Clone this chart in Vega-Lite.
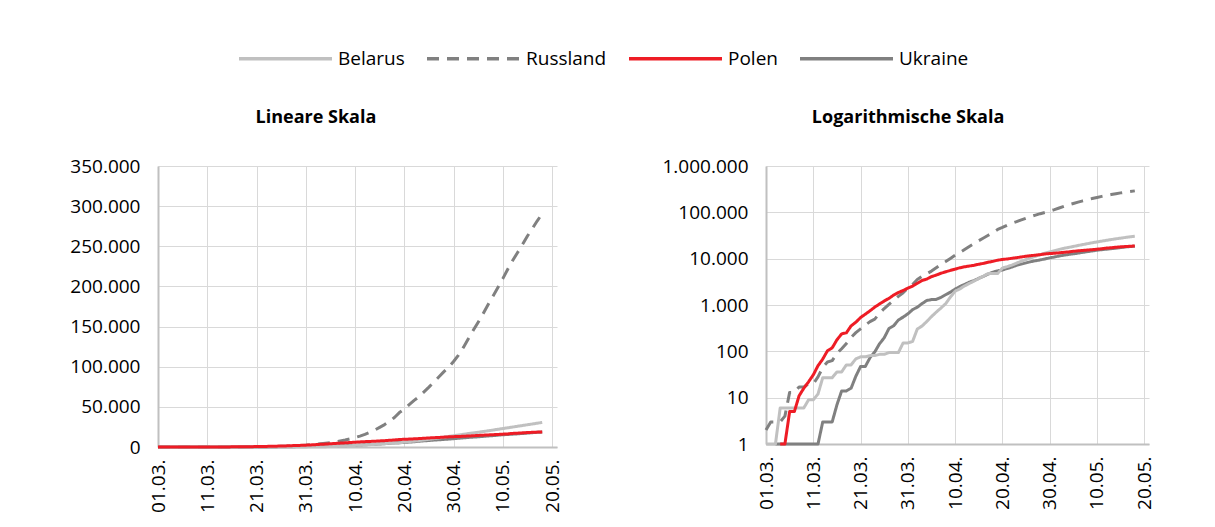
{
"$schema": "https://vega.github.io/schema/vega-lite/v6.json",
"background": "white",
"autosize": {"type": "pad"},
"padding": {"left": 69, "top": 10, "right": 5, "bottom": 5},
"spacing": 98,
"config": {
  "locale": {"number": {"decimal": ",", "thousands": ".", "grouping": [3], "currency": ["", " €"]}},
  "font": "Open Sans",
  "view": {"stroke": null},
  "axis": {"labelFont": "Open Sans", "labelFontSize": 19, "labelColor": "#000000", "gridColor": "#d9d9d9", "gridWidth": 1, "domainColor": "#c0c0c0", "domainWidth": 2, "ticks": false, "title": null},
  "title": {"font": "Open Sans", "fontSize": 18, "fontWeight": "bold", "color": "#000000", "anchor": "middle", "frame": "bounds", "offset": 30},
  "legend": {"title": null, "symbolType": "stroke", "symbolSize": 8649, "symbolStrokeWidth": 3.5, "labelFont": "Open Sans", "labelFontSize": 19, "labelColor": "#000000", "labelOffset": 4, "columnPadding": 15, "padding": 0}
},
"data": {"values": [
{"c":"Belarus","d":"2020-03-01","v":1},{"c":"Belarus","d":"2020-03-02","v":1},{"c":"Belarus","d":"2020-03-03","v":1},{"c":"Belarus","d":"2020-03-04","v":6},{"c":"Belarus","d":"2020-03-05","v":6},{"c":"Belarus","d":"2020-03-06","v":6},{"c":"Belarus","d":"2020-03-07","v":6},{"c":"Belarus","d":"2020-03-08","v":6},{"c":"Belarus","d":"2020-03-09","v":6},{"c":"Belarus","d":"2020-03-10","v":9},{"c":"Belarus","d":"2020-03-11","v":9},{"c":"Belarus","d":"2020-03-12","v":12},{"c":"Belarus","d":"2020-03-13","v":27},{"c":"Belarus","d":"2020-03-14","v":27},{"c":"Belarus","d":"2020-03-15","v":27},{"c":"Belarus","d":"2020-03-16","v":36},{"c":"Belarus","d":"2020-03-17","v":36},{"c":"Belarus","d":"2020-03-18","v":51},{"c":"Belarus","d":"2020-03-19","v":51},{"c":"Belarus","d":"2020-03-20","v":69},{"c":"Belarus","d":"2020-03-21","v":76},{"c":"Belarus","d":"2020-03-22","v":76},{"c":"Belarus","d":"2020-03-23","v":81},{"c":"Belarus","d":"2020-03-24","v":81},{"c":"Belarus","d":"2020-03-25","v":86},{"c":"Belarus","d":"2020-03-26","v":86},{"c":"Belarus","d":"2020-03-27","v":94},{"c":"Belarus","d":"2020-03-28","v":94},{"c":"Belarus","d":"2020-03-29","v":94},{"c":"Belarus","d":"2020-03-30","v":152},{"c":"Belarus","d":"2020-03-31","v":152},
{"c":"Belarus","d":"2020-04-01","v":163},{"c":"Belarus","d":"2020-04-02","v":304},{"c":"Belarus","d":"2020-04-03","v":351},{"c":"Belarus","d":"2020-04-04","v":440},{"c":"Belarus","d":"2020-04-05","v":562},{"c":"Belarus","d":"2020-04-06","v":700},{"c":"Belarus","d":"2020-04-07","v":861},{"c":"Belarus","d":"2020-04-08","v":1066},{"c":"Belarus","d":"2020-04-09","v":1486},{"c":"Belarus","d":"2020-04-10","v":1981},{"c":"Belarus","d":"2020-04-11","v":2226},{"c":"Belarus","d":"2020-04-12","v":2578},{"c":"Belarus","d":"2020-04-13","v":2919},{"c":"Belarus","d":"2020-04-14","v":3281},{"c":"Belarus","d":"2020-04-15","v":3728},{"c":"Belarus","d":"2020-04-16","v":4204},{"c":"Belarus","d":"2020-04-17","v":4779},{"c":"Belarus","d":"2020-04-18","v":4779},{"c":"Belarus","d":"2020-04-19","v":4779},{"c":"Belarus","d":"2020-04-20","v":6264},{"c":"Belarus","d":"2020-04-21","v":6723},{"c":"Belarus","d":"2020-04-22","v":7281},{"c":"Belarus","d":"2020-04-23","v":8022},{"c":"Belarus","d":"2020-04-24","v":8773},{"c":"Belarus","d":"2020-04-25","v":9590},{"c":"Belarus","d":"2020-04-26","v":10463},{"c":"Belarus","d":"2020-04-27","v":11289},{"c":"Belarus","d":"2020-04-28","v":12208},{"c":"Belarus","d":"2020-04-29","v":13181},{"c":"Belarus","d":"2020-04-30","v":14027},
{"c":"Belarus","d":"2020-05-01","v":14917},{"c":"Belarus","d":"2020-05-02","v":15828},{"c":"Belarus","d":"2020-05-03","v":16705},{"c":"Belarus","d":"2020-05-04","v":17489},{"c":"Belarus","d":"2020-05-05","v":18350},{"c":"Belarus","d":"2020-05-06","v":19255},{"c":"Belarus","d":"2020-05-07","v":20168},{"c":"Belarus","d":"2020-05-08","v":21101},{"c":"Belarus","d":"2020-05-09","v":22052},{"c":"Belarus","d":"2020-05-10","v":22973},{"c":"Belarus","d":"2020-05-11","v":23906},{"c":"Belarus","d":"2020-05-12","v":24873},{"c":"Belarus","d":"2020-05-13","v":25825},{"c":"Belarus","d":"2020-05-14","v":26772},{"c":"Belarus","d":"2020-05-15","v":27730},{"c":"Belarus","d":"2020-05-16","v":28681},{"c":"Belarus","d":"2020-05-17","v":29650},{"c":"Belarus","d":"2020-05-18","v":30572},
{"c":"Russland","d":"2020-03-01","v":2},{"c":"Russland","d":"2020-03-02","v":3},{"c":"Russland","d":"2020-03-03","v":3},{"c":"Russland","d":"2020-03-04","v":3},{"c":"Russland","d":"2020-03-05","v":4},{"c":"Russland","d":"2020-03-06","v":13},{"c":"Russland","d":"2020-03-07","v":13},{"c":"Russland","d":"2020-03-08","v":17},{"c":"Russland","d":"2020-03-09","v":17},{"c":"Russland","d":"2020-03-10","v":20},{"c":"Russland","d":"2020-03-11","v":20},{"c":"Russland","d":"2020-03-12","v":28},{"c":"Russland","d":"2020-03-13","v":45},{"c":"Russland","d":"2020-03-14","v":59},{"c":"Russland","d":"2020-03-15","v":63},{"c":"Russland","d":"2020-03-16","v":90},{"c":"Russland","d":"2020-03-17","v":114},{"c":"Russland","d":"2020-03-18","v":147},{"c":"Russland","d":"2020-03-19","v":199},{"c":"Russland","d":"2020-03-20","v":253},{"c":"Russland","d":"2020-03-21","v":306},{"c":"Russland","d":"2020-03-22","v":367},{"c":"Russland","d":"2020-03-23","v":438},{"c":"Russland","d":"2020-03-24","v":495},{"c":"Russland","d":"2020-03-25","v":658},{"c":"Russland","d":"2020-03-26","v":840},{"c":"Russland","d":"2020-03-27","v":1036},{"c":"Russland","d":"2020-03-28","v":1264},{"c":"Russland","d":"2020-03-29","v":1534},{"c":"Russland","d":"2020-03-30","v":1836},{"c":"Russland","d":"2020-03-31","v":2337},
{"c":"Russland","d":"2020-04-01","v":2777},{"c":"Russland","d":"2020-04-02","v":3548},{"c":"Russland","d":"2020-04-03","v":4149},{"c":"Russland","d":"2020-04-04","v":4731},{"c":"Russland","d":"2020-04-05","v":5389},{"c":"Russland","d":"2020-04-06","v":6343},{"c":"Russland","d":"2020-04-07","v":7497},{"c":"Russland","d":"2020-04-08","v":8672},{"c":"Russland","d":"2020-04-09","v":10131},{"c":"Russland","d":"2020-04-10","v":11917},{"c":"Russland","d":"2020-04-11","v":13584},{"c":"Russland","d":"2020-04-12","v":15770},{"c":"Russland","d":"2020-04-13","v":18328},{"c":"Russland","d":"2020-04-14","v":21102},{"c":"Russland","d":"2020-04-15","v":24490},{"c":"Russland","d":"2020-04-16","v":27938},{"c":"Russland","d":"2020-04-17","v":32008},{"c":"Russland","d":"2020-04-18","v":36793},{"c":"Russland","d":"2020-04-19","v":42853},{"c":"Russland","d":"2020-04-20","v":47121},{"c":"Russland","d":"2020-04-21","v":52763},{"c":"Russland","d":"2020-04-22","v":57999},{"c":"Russland","d":"2020-04-23","v":62773},{"c":"Russland","d":"2020-04-24","v":68622},{"c":"Russland","d":"2020-04-25","v":74588},{"c":"Russland","d":"2020-04-26","v":80949},{"c":"Russland","d":"2020-04-27","v":87147},{"c":"Russland","d":"2020-04-28","v":93558},{"c":"Russland","d":"2020-04-29","v":99399},{"c":"Russland","d":"2020-04-30","v":106498},
{"c":"Russland","d":"2020-05-01","v":114431},{"c":"Russland","d":"2020-05-02","v":124054},{"c":"Russland","d":"2020-05-03","v":134686},{"c":"Russland","d":"2020-05-04","v":145268},{"c":"Russland","d":"2020-05-05","v":155370},{"c":"Russland","d":"2020-05-06","v":165929},{"c":"Russland","d":"2020-05-07","v":177160},{"c":"Russland","d":"2020-05-08","v":187859},{"c":"Russland","d":"2020-05-09","v":198676},{"c":"Russland","d":"2020-05-10","v":209688},{"c":"Russland","d":"2020-05-11","v":221344},{"c":"Russland","d":"2020-05-12","v":232243},{"c":"Russland","d":"2020-05-13","v":242271},{"c":"Russland","d":"2020-05-14","v":252245},{"c":"Russland","d":"2020-05-15","v":262843},{"c":"Russland","d":"2020-05-16","v":272043},{"c":"Russland","d":"2020-05-17","v":281752},{"c":"Russland","d":"2020-05-18","v":290678},
{"c":"Polen","d":"2020-03-01","v":0},{"c":"Polen","d":"2020-03-02","v":0},{"c":"Polen","d":"2020-03-03","v":0},{"c":"Polen","d":"2020-03-04","v":1},{"c":"Polen","d":"2020-03-05","v":1},{"c":"Polen","d":"2020-03-06","v":5},{"c":"Polen","d":"2020-03-07","v":5},{"c":"Polen","d":"2020-03-08","v":11},{"c":"Polen","d":"2020-03-09","v":16},{"c":"Polen","d":"2020-03-10","v":22},{"c":"Polen","d":"2020-03-11","v":31},{"c":"Polen","d":"2020-03-12","v":49},{"c":"Polen","d":"2020-03-13","v":68},{"c":"Polen","d":"2020-03-14","v":103},{"c":"Polen","d":"2020-03-15","v":119},{"c":"Polen","d":"2020-03-16","v":177},{"c":"Polen","d":"2020-03-17","v":238},{"c":"Polen","d":"2020-03-18","v":251},{"c":"Polen","d":"2020-03-19","v":355},{"c":"Polen","d":"2020-03-20","v":425},{"c":"Polen","d":"2020-03-21","v":536},{"c":"Polen","d":"2020-03-22","v":634},{"c":"Polen","d":"2020-03-23","v":749},{"c":"Polen","d":"2020-03-24","v":901},{"c":"Polen","d":"2020-03-25","v":1051},{"c":"Polen","d":"2020-03-26","v":1221},{"c":"Polen","d":"2020-03-27","v":1389},{"c":"Polen","d":"2020-03-28","v":1638},{"c":"Polen","d":"2020-03-29","v":1862},{"c":"Polen","d":"2020-03-30","v":2055},{"c":"Polen","d":"2020-03-31","v":2311},
{"c":"Polen","d":"2020-04-01","v":2554},{"c":"Polen","d":"2020-04-02","v":2946},{"c":"Polen","d":"2020-04-03","v":3383},{"c":"Polen","d":"2020-04-04","v":3627},{"c":"Polen","d":"2020-04-05","v":4102},{"c":"Polen","d":"2020-04-06","v":4413},{"c":"Polen","d":"2020-04-07","v":4848},{"c":"Polen","d":"2020-04-08","v":5205},{"c":"Polen","d":"2020-04-09","v":5575},{"c":"Polen","d":"2020-04-10","v":5955},{"c":"Polen","d":"2020-04-11","v":6356},{"c":"Polen","d":"2020-04-12","v":6674},{"c":"Polen","d":"2020-04-13","v":6934},{"c":"Polen","d":"2020-04-14","v":7202},{"c":"Polen","d":"2020-04-15","v":7582},{"c":"Polen","d":"2020-04-16","v":7918},{"c":"Polen","d":"2020-04-17","v":8379},{"c":"Polen","d":"2020-04-18","v":8742},{"c":"Polen","d":"2020-04-19","v":9287},{"c":"Polen","d":"2020-04-20","v":9593},{"c":"Polen","d":"2020-04-21","v":9856},{"c":"Polen","d":"2020-04-22","v":10169},{"c":"Polen","d":"2020-04-23","v":10511},{"c":"Polen","d":"2020-04-24","v":10892},{"c":"Polen","d":"2020-04-25","v":11273},{"c":"Polen","d":"2020-04-26","v":11617},{"c":"Polen","d":"2020-04-27","v":11902},{"c":"Polen","d":"2020-04-28","v":12218},{"c":"Polen","d":"2020-04-29","v":12640},{"c":"Polen","d":"2020-04-30","v":12877},
{"c":"Polen","d":"2020-05-01","v":13105},{"c":"Polen","d":"2020-05-02","v":13375},{"c":"Polen","d":"2020-05-03","v":13693},{"c":"Polen","d":"2020-05-04","v":14006},{"c":"Polen","d":"2020-05-05","v":14431},{"c":"Polen","d":"2020-05-06","v":14740},{"c":"Polen","d":"2020-05-07","v":15047},{"c":"Polen","d":"2020-05-08","v":15366},{"c":"Polen","d":"2020-05-09","v":15651},{"c":"Polen","d":"2020-05-10","v":15996},{"c":"Polen","d":"2020-05-11","v":16326},{"c":"Polen","d":"2020-05-12","v":16921},{"c":"Polen","d":"2020-05-13","v":17204},{"c":"Polen","d":"2020-05-14","v":17615},{"c":"Polen","d":"2020-05-15","v":18016},{"c":"Polen","d":"2020-05-16","v":18257},{"c":"Polen","d":"2020-05-17","v":18529},{"c":"Polen","d":"2020-05-18","v":18746},
{"c":"Ukraine","d":"2020-03-01","v":0},{"c":"Ukraine","d":"2020-03-02","v":0},{"c":"Ukraine","d":"2020-03-03","v":1},{"c":"Ukraine","d":"2020-03-04","v":1},{"c":"Ukraine","d":"2020-03-05","v":1},{"c":"Ukraine","d":"2020-03-06","v":1},{"c":"Ukraine","d":"2020-03-07","v":1},{"c":"Ukraine","d":"2020-03-08","v":1},{"c":"Ukraine","d":"2020-03-09","v":1},{"c":"Ukraine","d":"2020-03-10","v":1},{"c":"Ukraine","d":"2020-03-11","v":1},{"c":"Ukraine","d":"2020-03-12","v":1},{"c":"Ukraine","d":"2020-03-13","v":3},{"c":"Ukraine","d":"2020-03-14","v":3},{"c":"Ukraine","d":"2020-03-15","v":3},{"c":"Ukraine","d":"2020-03-16","v":7},{"c":"Ukraine","d":"2020-03-17","v":14},{"c":"Ukraine","d":"2020-03-18","v":14},{"c":"Ukraine","d":"2020-03-19","v":16},{"c":"Ukraine","d":"2020-03-20","v":29},{"c":"Ukraine","d":"2020-03-21","v":47},{"c":"Ukraine","d":"2020-03-22","v":47},{"c":"Ukraine","d":"2020-03-23","v":73},{"c":"Ukraine","d":"2020-03-24","v":97},{"c":"Ukraine","d":"2020-03-25","v":145},{"c":"Ukraine","d":"2020-03-26","v":196},{"c":"Ukraine","d":"2020-03-27","v":310},{"c":"Ukraine","d":"2020-03-28","v":356},{"c":"Ukraine","d":"2020-03-29","v":475},{"c":"Ukraine","d":"2020-03-30","v":548},{"c":"Ukraine","d":"2020-03-31","v":645},
{"c":"Ukraine","d":"2020-04-01","v":794},{"c":"Ukraine","d":"2020-04-02","v":897},{"c":"Ukraine","d":"2020-04-03","v":1072},{"c":"Ukraine","d":"2020-04-04","v":1251},{"c":"Ukraine","d":"2020-04-05","v":1308},{"c":"Ukraine","d":"2020-04-06","v":1319},{"c":"Ukraine","d":"2020-04-07","v":1462},{"c":"Ukraine","d":"2020-04-08","v":1668},{"c":"Ukraine","d":"2020-04-09","v":1892},{"c":"Ukraine","d":"2020-04-10","v":2203},{"c":"Ukraine","d":"2020-04-11","v":2511},{"c":"Ukraine","d":"2020-04-12","v":2777},{"c":"Ukraine","d":"2020-04-13","v":3102},{"c":"Ukraine","d":"2020-04-14","v":3372},{"c":"Ukraine","d":"2020-04-15","v":3764},{"c":"Ukraine","d":"2020-04-16","v":4161},{"c":"Ukraine","d":"2020-04-17","v":4662},{"c":"Ukraine","d":"2020-04-18","v":5106},{"c":"Ukraine","d":"2020-04-19","v":5449},{"c":"Ukraine","d":"2020-04-20","v":5710},{"c":"Ukraine","d":"2020-04-21","v":6125},{"c":"Ukraine","d":"2020-04-22","v":6592},{"c":"Ukraine","d":"2020-04-23","v":7170},{"c":"Ukraine","d":"2020-04-24","v":7647},{"c":"Ukraine","d":"2020-04-25","v":8125},{"c":"Ukraine","d":"2020-04-26","v":8617},{"c":"Ukraine","d":"2020-04-27","v":9009},{"c":"Ukraine","d":"2020-04-28","v":9410},{"c":"Ukraine","d":"2020-04-29","v":9866},{"c":"Ukraine","d":"2020-04-30","v":10406},
{"c":"Ukraine","d":"2020-05-01","v":10861},{"c":"Ukraine","d":"2020-05-02","v":11411},{"c":"Ukraine","d":"2020-05-03","v":11913},{"c":"Ukraine","d":"2020-05-04","v":12331},{"c":"Ukraine","d":"2020-05-05","v":12697},{"c":"Ukraine","d":"2020-05-06","v":13184},{"c":"Ukraine","d":"2020-05-07","v":13691},{"c":"Ukraine","d":"2020-05-08","v":14195},{"c":"Ukraine","d":"2020-05-09","v":14710},{"c":"Ukraine","d":"2020-05-10","v":15232},{"c":"Ukraine","d":"2020-05-11","v":15648},{"c":"Ukraine","d":"2020-05-12","v":16023},{"c":"Ukraine","d":"2020-05-13","v":16425},{"c":"Ukraine","d":"2020-05-14","v":16847},{"c":"Ukraine","d":"2020-05-15","v":17330},{"c":"Ukraine","d":"2020-05-16","v":17858},{"c":"Ukraine","d":"2020-05-17","v":18291},{"c":"Ukraine","d":"2020-05-18","v":18616}
]},
"resolve": {"scale": {"color": "shared", "strokeDash": "shared"}},
"hconcat": [
  {
    "width": 399, "height": 281,
    "title": {"text": "Lineare Skala"},
    "encoding": {
      "x": {"field": "d", "type": "temporal",
        "scale": {"type": "utc", "domain": [{"year": 2020, "month": 3, "date": 1, "utc": true}, {"year": 2020, "month": 5, "date": 21, "utc": true}]},
        "axis": {"values": [{"year": 2020, "month": 3, "date": 1, "utc": true}, {"year": 2020, "month": 3, "date": 11, "utc": true}, {"year": 2020, "month": 3, "date": 21, "utc": true}, {"year": 2020, "month": 3, "date": 31, "utc": true}, {"year": 2020, "month": 4, "date": 10, "utc": true}, {"year": 2020, "month": 4, "date": 20, "utc": true}, {"year": 2020, "month": 4, "date": 30, "utc": true}, {"year": 2020, "month": 5, "date": 10, "utc": true}, {"year": 2020, "month": 5, "date": 20, "utc": true}],
          "format": "%d.%m.", "labelAngle": -90, "labelPadding": 12, "grid": true, "title": null}},
      "y": {"field": "v", "type": "quantitative",
        "scale": {"domain": [0, 350000]},
        "axis": {"values": [0, 50000, 100000, 150000, 200000, 250000, 300000, 350000], "format": ",.0f", "labelPadding": 18, "grid": true, "title": null}},
      "color": {"field": "c", "type": "nominal", "title": null,
        "scale": {"domain": ["Belarus", "Russland", "Polen", "Ukraine"], "range": ["#c0c0c0", "#808080", "#ee1c25", "#808080"]},
        "legend": {"orient": "none", "legendX": 79, "legendY": -156, "direction": "horizontal"}},
      "strokeDash": {"field": "c", "type": "nominal", "title": null,
        "scale": {"domain": ["Belarus", "Russland", "Polen", "Ukraine"], "range": [[1, 0], [12, 8], [1, 0], [1, 0]]},
        "legend": {"orient": "none", "legendX": 79, "legendY": -156, "direction": "horizontal"}}
    },
    "layer": [
      {"transform": [{"filter": "datum.c === 'Ukraine'"}], "mark": {"type": "line", "strokeWidth": 3, "strokeJoin": "round"}},
      {"transform": [{"filter": "datum.c === 'Russland'"}], "mark": {"type": "line", "strokeWidth": 3, "strokeJoin": "round"}},
      {"transform": [{"filter": "datum.c === 'Belarus'"}], "mark": {"type": "line", "strokeWidth": 3, "strokeJoin": "round"}},
      {"transform": [{"filter": "datum.c === 'Polen'"}], "mark": {"type": "line", "strokeWidth": 3, "strokeJoin": "round"}}
    ]
  },
  {
    "width": 383, "height": 278,
    "title": {"text": "Logarithmische Skala"},
    "encoding": {
      "x": {"field": "d", "type": "temporal",
        "scale": {"type": "utc", "domain": [{"year": 2020, "month": 3, "date": 1, "utc": true}, {"year": 2020, "month": 5, "date": 21, "utc": true}]},
        "axis": {"values": [{"year": 2020, "month": 3, "date": 1, "utc": true}, {"year": 2020, "month": 3, "date": 11, "utc": true}, {"year": 2020, "month": 3, "date": 21, "utc": true}, {"year": 2020, "month": 3, "date": 31, "utc": true}, {"year": 2020, "month": 4, "date": 10, "utc": true}, {"year": 2020, "month": 4, "date": 20, "utc": true}, {"year": 2020, "month": 4, "date": 30, "utc": true}, {"year": 2020, "month": 5, "date": 10, "utc": true}, {"year": 2020, "month": 5, "date": 20, "utc": true}],
          "format": "%d.%m.", "labelAngle": -90, "labelPadding": 12, "grid": true, "title": null}},
      "y": {"field": "v", "type": "quantitative",
        "scale": {"type": "log", "domain": [1, 1000000]},
        "axis": {"values": [1, 10, 100, 1000, 10000, 100000, 1000000], "format": ",.0f", "labelPadding": 18, "grid": true, "title": null}},
      "color": {"field": "c", "type": "nominal", "title": null,
        "scale": {"domain": ["Belarus", "Russland", "Polen", "Ukraine"], "range": ["#c0c0c0", "#808080", "#ee1c25", "#808080"]},
        "legend": {"orient": "none", "legendX": 79, "legendY": -156, "direction": "horizontal"}},
      "strokeDash": {"field": "c", "type": "nominal", "title": null,
        "scale": {"domain": ["Belarus", "Russland", "Polen", "Ukraine"], "range": [[1, 0], [12, 8], [1, 0], [1, 0]]},
        "legend": {"orient": "none", "legendX": 79, "legendY": -156, "direction": "horizontal"}}
    },
    "layer": [
      {"transform": [{"filter": "datum.c === 'Ukraine' && datum.v > 0"}], "mark": {"type": "line", "strokeWidth": 3, "strokeJoin": "round"}},
      {"transform": [{"filter": "datum.c === 'Russland' && datum.v > 0"}], "mark": {"type": "line", "strokeWidth": 3, "strokeJoin": "round"}},
      {"transform": [{"filter": "datum.c === 'Belarus' && datum.v > 0"}], "mark": {"type": "line", "strokeWidth": 3, "strokeJoin": "round"}},
      {"transform": [{"filter": "datum.c === 'Polen' && datum.v > 0"}], "mark": {"type": "line", "strokeWidth": 3, "strokeJoin": "round"}}
    ]
  }
]
}
